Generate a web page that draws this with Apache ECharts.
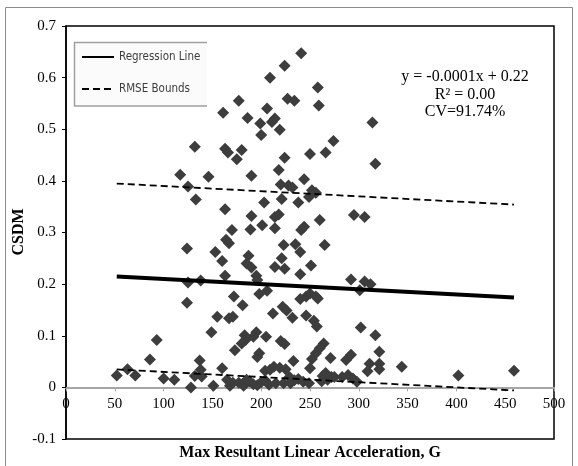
<!DOCTYPE html>
<html>
<head>
<meta charset="utf-8">
<script src="https://cdn.jsdelivr.net/npm/echarts@6/dist/echarts.min.js"></script>
<style>
  html, body { margin: 0; padding: 0; background: #fff; }
  #chart { width: 578px; height: 466px; }
</style>
</head>
<body>
<div id="chart"></div>
<script>
// Peak resultant linear acceleration (G) for each case
const accelG = [
  241, 224, 209, 258, 259, 227, 234, 177, 161, 206,
  186, 199, 211, 214, 219, 200, 314, 132, 163, 166,
  180, 175, 224, 250, 266, 274, 317, 117, 146, 190,
  218, 244, 125, 133, 220, 228, 232, 221, 238, 252,
  256, 249, 203, 163, 190, 214, 218, 260, 295, 306,
  170, 201, 189, 214, 241, 244, 164, 167, 124, 223,
  265, 235, 240, 153, 160, 187, 185, 190, 214, 221,
  224, 251, 240, 163, 195, 125, 138, 196, 292, 306,
  312, 301, 198, 206, 172, 240, 246, 250, 256, 258,
  124, 181, 222, 226, 232, 212, 155, 167, 171, 246,
  254, 257, 149, 183, 184, 195, 192, 205, 302, 317,
  93, 220, 224, 180, 264, 260, 173, 198, 196, 256,
  252, 271, 321, 292, 287, 86, 137, 233, 344, 311,
  321, 250, 321, 309, 459, 402, 52, 63, 71, 100,
  111, 128, 132, 139, 138, 151, 160, 165, 168, 171,
  177, 182, 188, 192, 196, 200, 204, 204, 209, 213,
  219, 225, 208, 215, 223, 230, 234, 238, 243, 249,
  263, 268, 272, 275, 283, 289, 294, 298, 266, 185,
  229, 262
];

// Cumulative strain damage measure for the same cases
const csdm = [
  0.647, 0.623, 0.600, 0.581, 0.546, 0.559, 0.555, 0.555, 0.532, 0.540,
  0.522, 0.511, 0.514, 0.521, 0.499, 0.489, 0.513, 0.466, 0.462, 0.455,
  0.460, 0.442, 0.445, 0.452, 0.455, 0.477, 0.433, 0.412, 0.408, 0.410,
  0.421, 0.403, 0.389, 0.364, 0.393, 0.391, 0.387, 0.365, 0.358, 0.382,
  0.377, 0.369, 0.358, 0.345, 0.332, 0.330, 0.335, 0.324, 0.334, 0.330,
  0.305, 0.314, 0.306, 0.308, 0.305, 0.311, 0.286, 0.279, 0.269, 0.276,
  0.276, 0.277, 0.262, 0.262, 0.245, 0.255, 0.240, 0.232, 0.233, 0.250,
  0.230, 0.236, 0.219, 0.216, 0.216, 0.203, 0.207, 0.208, 0.209, 0.205,
  0.200, 0.188, 0.181, 0.187, 0.176, 0.171, 0.176, 0.182, 0.176, 0.172,
  0.164, 0.159, 0.156, 0.149, 0.135, 0.143, 0.137, 0.134, 0.137, 0.139,
  0.129, 0.118, 0.107, 0.101, 0.092, 0.107, 0.098, 0.098, 0.116, 0.101,
  0.092, 0.090, 0.084, 0.085, 0.085, 0.076, 0.072, 0.066, 0.059, 0.066,
  0.055, 0.057, 0.069, 0.063, 0.053, 0.054, 0.052, 0.051, 0.040, 0.046,
  0.046, 0.037, 0.035, 0.031, 0.032, 0.023, 0.023, 0.035, 0.023, 0.017,
  0.015, 0.000, 0.022, 0.021, 0.034, 0.003, 0.037, 0.015, 0.003, 0.009,
  0.009, 0.003, 0.012, 0.006, 0.004, 0.010, 0.014, 0.032, 0.034, 0.040,
  0.038, 0.035, 0.005, 0.008, 0.008, 0.008, 0.014, 0.016, 0.011, 0.008,
  0.022, 0.015, 0.020, 0.020, 0.020, 0.024, 0.017, 0.011, 0.028, 0.015,
  0.020, 0.012
];

// Linear fit and its root-mean-square error band
const fitSlope = -0.0001;
const fitIntercept = 0.22;
const rmse = 0.18;

const fitLabels = ['y = -0.0001x + 0.22', 'R\u00b2 = 0.00', 'CV=91.74%'];

const xTitle = 'Max Resultant Linear Acceleration, G';
const yTitle = 'CSDM';

const yMin = -0.1;
const yMax = 0.7;

const points = accelG.map((x, i) => [x, csdm[i]]);
const xLo = Math.min(...accelG);
const xHi = Math.max(...accelG);
const fitAt = (x, shift) => [x, fitIntercept + fitSlope * x + shift];

const serif = "'Liberation Serif', 'Times New Roman', serif";

// plot box
const W = 578, H = 466;
const gridTop = 26, gridBottom = 27, gridLeft = 66, gridRight = 24;
const plotH = H - gridTop - gridBottom;
// the horizontal axis sits on the zero line
const zeroOffset = -plotH * (0 - yMin) / (yMax - yMin);

const chart = echarts.init(document.getElementById('chart'), null, { renderer: 'canvas' });

chart.setOption({
  animation: false,
  backgroundColor: '#ffffff',
  grid: {
    left: gridLeft, right: gridRight, top: gridTop, bottom: gridBottom,
    show: true, borderColor: '#000', borderWidth: 1.5,
    backgroundColor: 'transparent'
  },
  legend: {
    orient: 'vertical',
    left: 81, top: 51,
    itemWidth: 32, itemHeight: 14, itemGap: 20,
    padding: 0,
    z: 20,
    data: ['Regression Line', 'RMSE Bounds'],
    itemStyle: { color: 'transparent', borderWidth: 0, opacity: 0 },
    textStyle: {
      fontFamily: "'Liberation Sans Narrow', 'DejaVu Sans Condensed', sans-serif",
      fontSize: 11.5, color: '#3c3c3c'
    }
  },
  xAxis: {
    type: 'value', min: 0, max: 500, interval: 50,
    position: 'bottom',
    offset: zeroOffset,
    axisLine: { onZero: false, lineStyle: { color: '#a6a6a6', width: 2 } },
    axisTick: { show: true, length: 4, lineStyle: { color: '#a6a6a6' } },
    axisLabel: { margin: 9, color: '#000', fontFamily: serif, fontSize: 15 },
    splitLine: { show: false }
  },
  yAxis: {
    type: 'value', min: yMin, max: yMax, interval: 0.1,
    axisLine: { show: true, lineStyle: { color: '#000', width: 1.5 } },
    axisTick: { show: true, length: 4, lineStyle: { color: '#000' } },
    axisLabel: {
      margin: 10, color: '#000', fontFamily: serif, fontSize: 15,
      formatter: v => (Math.abs(v) < 1e-9 ? '0' : v.toFixed(1))
    },
    splitLine: { show: false }
  },
  series: [
    {
      type: 'scatter',
      name: 'CSDM',
      data: points,
      symbol: 'diamond',
      symbolSize: 12,
      itemStyle: { color: '#3d3d3d', opacity: 1 },
      z: 2
    },
    {
      type: 'line',
      name: 'Regression Line',
      data: [fitAt(xLo, 0), fitAt(xHi, 0)],
      symbol: 'none',
      lineStyle: { color: '#000', width: 4 },
      itemStyle: { color: '#000' },
      z: 4
    },
    {
      type: 'line',
      name: 'RMSE Bounds',
      data: [fitAt(xLo, rmse), fitAt(xHi, rmse)],
      symbol: 'none',
      lineStyle: { color: '#000', width: 1.8, type: [7, 4] },
      itemStyle: { color: '#000' },
      z: 3
    },
    {
      type: 'line',
      name: 'RMSE Bounds',
      data: [fitAt(xLo, -rmse), fitAt(xHi, -rmse)],
      symbol: 'none',
      lineStyle: { color: '#000', width: 1.8, type: [7, 4] },
      itemStyle: { color: '#000' },
      z: 3
    }
  ],
  graphic: [
    // outer frame
    {
      type: 'rect', z: -10, silent: true,
      shape: { x: 5.5, y: 7.5, width: 567, height: 470 },
      style: { fill: 'transparent', stroke: '#8c8c8c', lineWidth: 1 }
    },
    // legend panel (open on the right)
    {
      type: 'rect', z: 1, silent: true,
      shape: { x: 74, y: 42, width: 133, height: 64 },
      style: { fill: '#fbfbfb', stroke: null }
    },
    {
      type: 'polyline', z: 1, silent: true,
      shape: { points: [[207, 42.5], [74.5, 42.5], [74.5, 106], [207, 106]] },
      style: { stroke: '#a0a0a0', lineWidth: 1.5, fill: null }
    },
    // fit statistics
    ...fitLabels.map((t, i) => ({
      type: 'text', z: 10,
      x: 465, y: 77 + i * 17.5,
      style: {
        text: t, fill: '#000', font: '16px ' + serif,
        textAlign: 'center', textVerticalAlign: 'middle'
      }
    })),
    {
      type: 'text', z: 10,
      x: 310, y: 453,
      style: {
        text: xTitle, fill: '#000', font: 'bold 16px ' + serif,
        textAlign: 'center', textVerticalAlign: 'middle'
      }
    },
    {
      type: 'text', z: 10,
      x: 19, y: 232, rotation: Math.PI / 2,
      style: {
        text: yTitle, fill: '#000', font: 'bold 16px ' + serif,
        textAlign: 'center', textVerticalAlign: 'middle'
      }
    }
  ]
});
</script>
</body>
</html>
